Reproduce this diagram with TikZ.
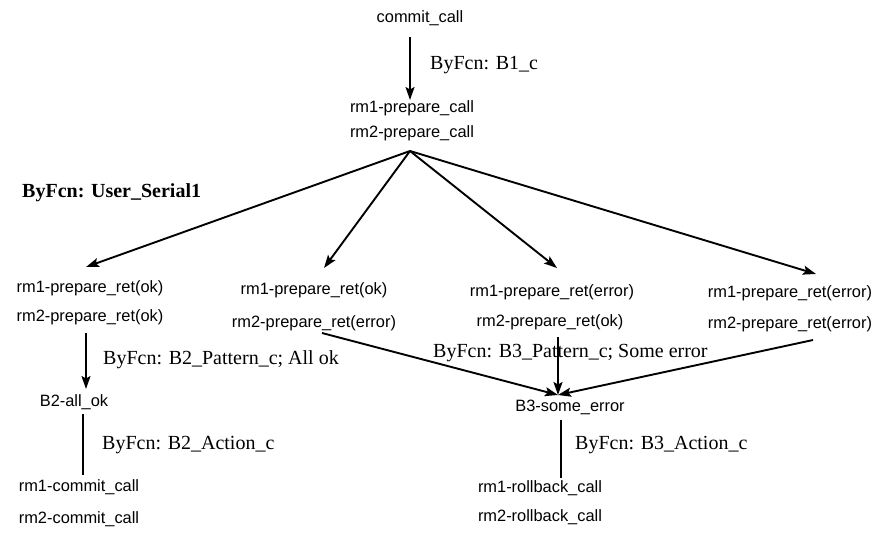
\documentclass[tikz,border=0pt]{standalone}
\usepackage{fontspec}
\setmainfont{Liberation Serif}
\setsansfont{Liberation Sans}
\usetikzlibrary{arrows.meta}
\begin{document}
\begin{tikzpicture}[x=1pt,y=-1pt,
  ev/.style={font=\sffamily\fontsize{16.4}{19}\selectfont, inner sep=0pt, anchor=center},
  lbl/.style={font=\fontsize{20}{24}\selectfont, inner sep=0pt, anchor=west},
  flow/.style={line width=1.9pt, -{Stealth[length=13pt,width=9pt,inset=2.5pt]}},
  plain/.style={line width=1.9pt}]
\useasboundingbox (0,0) rectangle (882,535);

% top: commit and prepare calls
\node[ev] (commit) at (420,18) {commit\_call};
\node[ev] (prep1) at (412,108) {rm1-prepare\_call};
\node[ev] (prep2) at (412,133) {rm2-prepare\_call};
\node[lbl] (lb1) at (430,65) {ByFcn: B1\_c};
\coordinate (c0) at (410,37);
\coordinate (c1) at (410,100);
\draw[flow] (c0) -- (c1);

\node[lbl, font=\bfseries\fontsize{20}{24}\selectfont] (serial) at (22,193) {ByFcn: User\_Serial1};

% fan-out to the four reply combinations
\coordinate (fan) at (410,151);
\coordinate (t1) at (86,267);
\coordinate (t2) at (324,268);
\coordinate (t3) at (557,268);
\coordinate (t4) at (816,274);
\foreach \t in {t1,t2,t3,t4} \draw[flow] (fan) -- (\t);

\node[ev] (r1a) at (90,288) {rm1-prepare\_ret(ok)};
\node[ev] (r1b) at (90,317) {rm2-prepare\_ret(ok)};
\node[ev] (r2a) at (314,290) {rm1-prepare\_ret(ok)};
\node[ev] (r2b) at (314,323) {rm2-prepare\_ret(error)};
\node[ev] (r3a) at (552,292) {rm1-prepare\_ret(error)};
\node[ev] (r3b) at (550,322) {rm2-prepare\_ret(ok)};
\node[ev] (r4a) at (790,293) {rm1-prepare\_ret(error)};
\node[ev] (r4b) at (790,324) {rm2-prepare\_ret(error)};

% all ok branch
\coordinate (b2s) at (86,333);
\coordinate (b2t) at (86,389);
\draw[flow] (b2s) -- (b2t);
\node[lbl] (lb2) at (103,360) {ByFcn: B2\_Pattern\_c; All ok};
\node[ev] (b2) at (74,402) {B2-all\_ok};
\coordinate (b2a) at (83,414);
\coordinate (b2b) at (83,475);
\draw[plain] (b2a) -- (b2b);
\node[lbl] (lb3) at (102,445) {ByFcn: B2\_Action\_c};
\node[ev] (c1a) at (79,487) {rm1-commit\_call};
\node[ev] (c1b) at (79,519) {rm2-commit\_call};

% some error branch
\coordinate (e2) at (322,333);
\coordinate (e3) at (558,337);
\coordinate (e4) at (813,340);
\coordinate (b3t) at (558,395);
\draw[flow] (e2) -- (b3t);
\draw[flow] (e3) -- (b3t);
\draw[flow] (e4) -- (b3t);
\node[lbl] (lb4) at (433,353) {ByFcn: B3\_Pattern\_c; Some error};
\node[ev] (b3) at (570,407) {B3-some\_error};
\coordinate (b3a) at (561,420);
\coordinate (b3b) at (561,478);
\draw[plain] (b3a) -- (b3b);
\node[lbl] (lb5) at (575,445) {ByFcn: B3\_Action\_c};
\node[ev] (rb1) at (540,488) {rm1-rollback\_call};
\node[ev] (rb2) at (540,517) {rm2-rollback\_call};
\end{tikzpicture}
\end{document}
